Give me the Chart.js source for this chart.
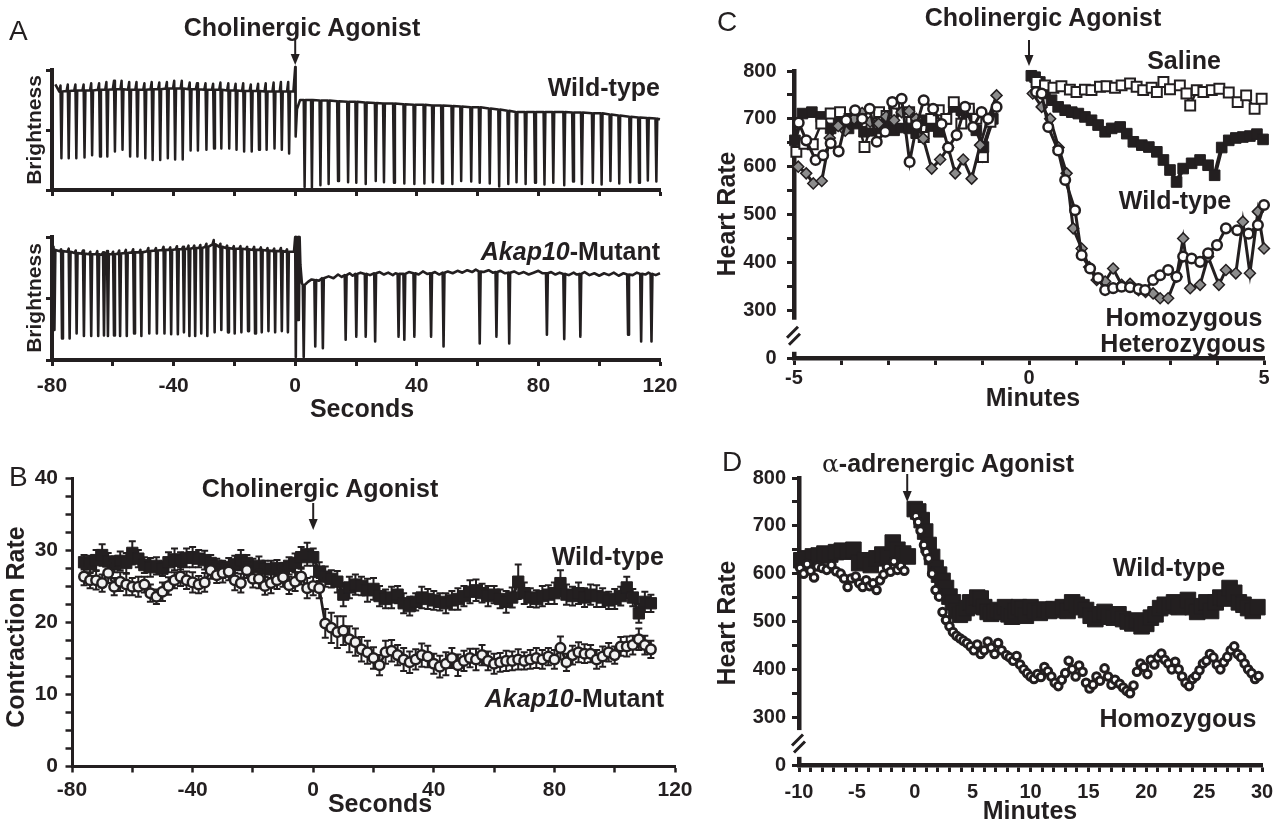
<!DOCTYPE html>
<html>
<head>
<meta charset="utf-8">
<title>Akap10 contraction and heart rate</title>
<script src="https://cdn.jsdelivr.net/npm/chart.js@4.4.1/dist/chart.umd.min.js"></script>
<style>
  html, body { margin: 0; padding: 0; background: #fff; }
  body { position: relative; width: 1282px; height: 830px; overflow: hidden; color: #231f20;
         font-family: 'Liberation Sans', Arial, Helvetica, sans-serif; }
  canvas { position: absolute; }
  .lbl { position: absolute; white-space: nowrap; font-weight: bold; font-size: 25px; line-height: 1;
         transform: translate(-50%, -50%); }
  .r { transform: translate(-100%, -50%); }
  .l { transform: translate(0, -50%); }
  .v { transform: translate(-50%, -50%) rotate(-90deg); }
  .panel { font-weight: normal; font-size: 28px; }
  .alpha { font-weight: normal; font-family: 'DejaVu Serif', serif; }
</style>
</head>
<body>
<canvas id="chartA1" width="700" height="164" style="left:0;top:36px"></canvas>
<canvas id="chartA2" width="700" height="200" style="left:0;top:225px"></canvas>
<canvas id="chartB" width="705" height="375" style="left:0;top:455px"></canvas>
<canvas id="chartC" width="582" height="370" style="left:700px;top:30px"></canvas>
<canvas id="chartD" width="582" height="390" style="left:700px;top:440px"></canvas>

<div class="lbl panel l" style="left:9px;top:31px">A</div>
<div class="lbl" style="left:302px;top:27px">Cholinergic Agonist</div>
<div class="lbl r" style="left:660px;top:87px">Wild-type</div>
<div class="lbl v" style="left:33px;top:130px;font-size:21px">Brightness</div>
<div class="lbl v" style="left:33px;top:298px;font-size:21px">Brightness</div>
<div class="lbl r" style="left:660px;top:251px"><i>Akap10</i>-Mutant</div>
<div class="lbl" style="left:362px;top:408px">Seconds</div>

<div class="lbl panel l" style="left:9px;top:477px">B</div>
<div class="lbl" style="left:320px;top:488px">Cholinergic Agonist</div>
<div class="lbl r" style="left:664px;top:556px">Wild-type</div>
<div class="lbl r" style="left:664px;top:698px"><i>Akap10</i>-Mutant</div>
<div class="lbl v" style="left:15px;top:627px">Contraction Rate</div>
<div class="lbl" style="left:380px;top:803px">Seconds</div>

<div class="lbl panel l" style="left:717px;top:22px">C</div>
<div class="lbl" style="left:1043px;top:17px">Cholinergic Agonist</div>
<div class="lbl" style="left:1184px;top:60px">Saline</div>
<div class="lbl" style="left:1175px;top:200px">Wild-type</div>
<div class="lbl" style="left:1184px;top:317px">Homozygous</div>
<div class="lbl" style="left:1183px;top:343px">Heterozygous</div>
<div class="lbl v" style="left:726px;top:214px">Heart Rate</div>
<div class="lbl" style="left:1033px;top:397px">Minutes</div>

<div class="lbl panel l" style="left:722px;top:462px">D</div>
<div class="lbl" style="left:948px;top:463px"><span class="alpha">α</span>-adrenergic Agonist</div>
<div class="lbl" style="left:1169px;top:567px">Wild-type</div>
<div class="lbl" style="left:1178px;top:718px">Homozygous</div>
<div class="lbl v" style="left:726px;top:623px">Heart Rate</div>
<div class="lbl" style="left:1030px;top:810px">Minutes</div>

<script>
// ---------- A: brightness traces, wild-type (seconds, arbitrary units 0-2) ----------
const aWtPreTime = [-76.9,-74.5,-72.0,-69.3,-66.8,-64.2,-61.8,-59.3,-56.8,-54.3,-51.9,-49.3,-46.9,-44.4,-41.9,-39.5,-37.0,-34.4,-32.0,-29.2,-26.7,-24.3,-21.7,-19.3,-16.8,-14.3,-11.9,-9.4,-6.8,-4.4,-2.0];
const aWtPreMin = [0.53,0.53,0.53,0.54,0.58,0.56,0.56,0.64,0.67,0.56,0.56,0.53,0.50,0.50,0.53,0.51,0.51,0.66,0.66,0.67,0.69,0.69,0.69,0.67,0.64,0.64,0.67,0.67,0.69,0.67,0.61];
const aWtPreBase = [1.64,1.65,1.66,1.66,1.66,1.67,1.67,1.68,1.68,1.67,1.67,1.67,1.68,1.68,1.69,1.69,1.69,1.68,1.68,1.67,1.67,1.67,1.66,1.66,1.65,1.65,1.65,1.64,1.64,1.64,1.64];
const aWtPrePeak = [1.74,1.76,1.76,1.76,1.78,1.78,1.80,1.82,1.82,1.80,1.80,1.78,1.80,1.79,1.80,1.82,1.82,1.79,1.78,1.78,1.77,1.79,1.78,1.77,1.78,1.76,1.77,1.78,1.79,1.80,1.80];
const aWtPostTime = [3.1,5.5,8.3,11.0,14.1,17.4,20.1,23.2,26.5,29.2,32.5,35.9,39.2,42.5,45.3,48.3,51.7,54.6,57.9,60.7,64.0,67.1,70.1,72.8,75.8,78.9,82.0,84.9,88.5,91.4,94.3,97.9,100.8,103.7,106.6,110.2,113.1,116.0,118.8];
const aWtPostMin = [0.05,0.04,0.08,0.10,0.15,0.13,0.12,0.10,0.15,0.13,0.12,0.11,0.10,0.11,0.13,0.11,0.10,0.15,0.14,0.12,0.11,0.06,0.10,0.13,0.10,0.12,0.09,0.12,0.08,0.14,0.10,0.12,0.09,0.15,0.11,0.13,0.12,0.16,0.14];
const aWtPostBase = [1.50,1.50,1.49,1.49,1.48,1.47,1.47,1.46,1.45,1.44,1.44,1.43,1.42,1.42,1.41,1.41,1.40,1.39,1.38,1.38,1.36,1.34,1.32,1.30,1.30,1.30,1.30,1.30,1.30,1.29,1.29,1.28,1.28,1.26,1.24,1.22,1.21,1.20,1.19];
const aWtEventTime = [-78.9, -0.6, 0, 0.15, 0.6, 1.6, 120];
const aWtEventVal = [1.76, 1.64, 2.05, 0.89, 1.35, 1.50, 1.18];

// ---------- A: brightness traces, Akap10 mutant ----------
const aMutPreTime = [-79.2,-76.7,-74.2,-71.9,-69.5,-67.1,-64.8,-62.9,-61.6,-59.6,-57.6,-55.4,-53.0,-50.6,-48.0,-45.5,-43.0,-40.8,-38.6,-36.6,-34.8,-32.9,-30.9,-28.9,-26.5,-24.3,-22.1,-19.9,-17.7,-15.5,-13.2,-11.0,-8.8,-6.6,-4.4,-2.4];
const aMutPreMin = [0.49,0.35,0.35,0.43,0.39,0.39,0.39,0.40,0.39,0.40,0.39,0.39,0.43,0.39,0.43,0.43,0.43,0.42,0.42,0.45,0.39,0.39,0.43,0.39,0.45,0.49,0.45,0.43,0.45,0.47,0.43,0.45,0.47,0.45,0.47,0.45];
const aMutPreBase = [1.79,1.77,1.76,1.74,1.73,1.72,1.72,1.71,1.72,1.72,1.73,1.74,1.75,1.75,1.77,1.78,1.79,1.79,1.80,1.80,1.81,1.82,1.82,1.84,1.88,1.84,1.82,1.81,1.81,1.80,1.79,1.79,1.78,1.77,1.77,1.76];
const aMutPrePeak = [1.84,1.80,1.81,1.78,1.78,1.76,1.77,1.75,1.77,1.76,1.78,1.79,1.80,1.79,1.82,1.82,1.84,1.83,1.85,1.84,1.86,1.86,1.87,1.89,1.95,1.89,1.86,1.85,1.85,1.84,1.84,1.83,1.82,1.81,1.82,1.80];
const aMutPostTime = [2.8,6.6,9.1,16.6,20.1,23.2,26.3,34.0,35.9,39.2,44.7,48.8,60.7,66.2,70.4,82.8,88.5,93.8,109.5,113.8,117.2];
const aMutPostMin = [0.05,0.22,0.19,0.33,0.38,0.38,0.30,0.38,0.33,0.38,0.38,0.22,0.27,0.38,0.27,0.41,0.34,0.38,0.41,0.30,0.30];
const aMutPostBase = [1.22,1.30,1.33,1.38,1.40,1.40,1.41,1.40,1.40,1.41,1.41,1.42,1.44,1.43,1.42,1.41,1.40,1.40,1.39,1.40,1.40];
const aMutEventTime = [-79.8, -0.4, 0, 0.2, 0.45, 0.7, 0.95, 1.2, 1.45, 1.7, 2.2];
const aMutEventVal = [1.80, 1.76, 2.0, 0.05, 2.0, 0.65, 2.0, 0.65, 2.0, 1.55, 1.25];
const aMutNoiseTime = [4.2,5.4,7.8,11.0,12.6,14.1,15.3,17.9,18.9,21.5,24.6,27.8,29.2,30.6,32.1,33.0,37.4,40.6,42.0,43.4,46.0,47.4,50.2,51.8,53.4,55.0,56.6,58.2,59.4,62.0,63.6,65.0,67.6,69.0,72.0,73.6,75.2,76.8,78.4,80.0,81.4,84.2,85.6,87.0,90.0,91.6,92.6,95.2,96.8,98.4,100.0,101.6,103.2,104.8,106.4,108.0,111.0,112.4,115.2,116.2,118.6,120.0];
const aMutNoiseVal = [1.27,1.31,1.29,1.36,1.33,1.39,1.35,1.41,1.37,1.42,1.38,1.43,1.39,1.42,1.38,1.41,1.43,1.39,1.44,1.40,1.43,1.39,1.44,1.41,1.45,1.42,1.46,1.43,1.47,1.43,1.46,1.42,1.45,1.41,1.44,1.40,1.43,1.39,1.42,1.45,1.41,1.43,1.39,1.42,1.38,1.42,1.39,1.43,1.38,1.41,1.37,1.41,1.38,1.42,1.37,1.41,1.38,1.42,1.39,1.42,1.38,1.41];

// ---------- B: contraction rate (seconds) ----------
const bTime = [-76,-74,-72,-70,-68,-66,-64,-62,-60,-58,-56,-54,-52,-50,-48,-46,-44,-42,-40,-38,-36,-34,-32,-30,-28,-26,-24,-22,-20,-18,-16,-14,-12,-10,-8,-6,-4,-2,0,2,4,6,8,10,12,14,16,18,20,22,24,26,28,30,32,34,36,38,40,42,44,46,48,50,52,54,56,58,60,62,64,66,68,70,72,74,76,78,80,82,84,86,88,90,92,94,96,98,100,102,104,106,108,110,112];
const bWild = [28.3,28.0,28.6,29.3,28.4,28.0,28.5,28.2,29.6,28.8,27.9,27.6,27.8,27.4,28.3,28.7,28.5,28.9,29.0,28.8,28.6,28.2,27.8,27.3,27.6,28.0,28.6,28.2,27.6,27.8,27.4,27.3,27.5,27.2,27.8,28.2,29.0,29.4,
  29.0,
  27.0,26.3,26.0,25.6,23.8,24.8,25.2,25.0,24.4,24.6,23.6,23.2,23.4,23.8,22.6,22.2,22.8,23.4,23.2,23.0,22.8,22.6,23.0,23.2,23.6,24.2,24.4,24.0,23.6,23.8,23.2,22.8,23.4,25.6,24.0,23.4,23.2,23.6,23.8,24.0,25.4,23.8,23.6,24.0,23.4,23.8,23.6,23.4,23.0,23.2,23.6,24.8,23.4,21.2,22.8,22.6];
const bWildErr = [1.0,1.2,1.4,1.5,1.2,1.1,1.3,1.4,1.6,1.2,1.1,1.3,1.2,1.0,1.4,1.5,1.2,1.3,1.4,1.2,1.3,1.1,1.0,1.2,1.3,1.2,1.4,1.1,1.2,1.3,1.1,1.2,1.1,1.0,1.2,1.3,1.4,1.6,
  1.2,
  1.3,1.4,1.2,1.5,1.6,1.5,1.4,1.3,1.6,1.5,1.4,1.3,1.5,1.2,1.4,1.3,1.2,1.5,1.4,1.3,1.2,1.4,1.3,1.5,1.4,1.6,1.5,1.3,1.4,1.2,1.3,1.5,1.4,2.4,1.5,1.3,1.2,1.4,1.3,1.5,1.8,1.4,1.3,1.5,1.3,1.4,1.5,1.3,1.2,1.4,1.3,1.5,1.2,1.3,1.4,1.2];
const bMutant = [26.3,25.8,25.8,25.4,26.8,24.9,25.6,25.2,24.9,24.9,25.2,24.0,23.5,24.2,25.0,25.8,26.3,25.8,25.5,25.2,25.5,27.2,26.5,26.8,27.0,25.8,25.4,27.2,26.0,26.0,25.0,25.4,25.8,26.2,25.1,25.6,26.3,24.7,
  25.0,
  24.7,19.8,19.2,18.6,18.8,17.6,17.2,16.2,15.8,15.0,14.0,15.8,16.0,15.4,14.8,14.4,14.8,15.4,15.2,14.2,13.8,14.2,15.0,14.0,14.6,15.0,14.8,15.4,14.6,14.2,14.4,14.6,14.6,14.8,14.6,14.8,15.0,14.8,15.2,14.8,16.4,14.4,15.4,15.8,15.6,15.6,14.8,15.2,15.8,15.4,16.6,16.6,16.8,17.6,16.8,16.2];
const bMutantErr = [1.2,1.1,1.3,1.2,1.4,1.2,1.3,1.5,1.2,1.4,1.1,1.2,1.0,1.3,1.2,1.1,1.3,1.2,1.4,1.2,1.3,1.2,1.1,1.3,1.2,1.4,1.3,1.1,1.2,1.3,1.2,1.4,1.2,1.3,1.2,1.3,1.1,1.4,
  1.3,
  1.4,2.0,2.1,2.2,2.0,1.8,1.9,1.7,1.6,1.5,1.4,1.6,1.5,1.4,1.6,1.5,1.4,1.6,1.5,1.4,1.5,1.6,1.4,1.5,1.4,1.3,1.5,1.4,1.3,1.4,1.3,1.4,1.3,1.4,1.2,1.3,1.4,1.3,1.2,1.3,1.6,1.2,1.3,1.4,1.3,1.2,1.3,1.4,1.3,1.2,1.3,1.4,1.3,1.5,1.3,1.2];

// ---------- C: heart rate, cholinergic agonist (minutes) ----------
const cSalPreTime = [-4.95,-4.78,-4.6,-4.42,-4.22,-4.02,-3.82,-3.66,-3.5,-3.35,-3.19,-3.03,-2.87,-2.71,-2.55,-2.4,-2.24,-2.08,-1.92,-1.76,-1.6,-1.44,-1.28,-1.12,-0.98,-0.82];
const cSalPre = [631,648,647,690,711,714,700,705,641,690,714,706,732,700,714,690,662,700,718,700,735,690,721,700,620,694];
const cSalPostTime = [0.16,0.34,0.52,0.69,0.87,1.01,1.19,1.33,1.51,1.65,1.83,1.97,2.15,2.29,2.43,2.61,2.72,2.86,3.0,3.21,3.35,3.43,3.57,3.71,3.89,4.05,4.25,4.44,4.62,4.8,4.95];
const cSalPost = [777,770,765,768,761,756,761,760,767,768,765,770,774,767,760,765,756,777,762,770,753,728,760,756,760,763,755,735,749,721,742];
const cWtPreTime = [-4.98,-4.82,-4.62,-4.42,-4.22,-4.05,-3.84,-3.66,-3.51,-3.35,-3.19,-3.03,-2.87,-2.71,-2.55,-2.4,-2.24,-2.08,-1.92,-1.76,-1.6,-1.44,-1.28,-1.12,-0.97,-0.77];
const cWtPre = [655,711,714,704,680,695,680,690,673,675,680,690,676,682,680,670,697,685,673,700,725,718,714,676,641,700];
const cWtPostTime = [0.05,0.13,0.23,0.34,0.48,0.62,0.77,0.91,1.05,1.19,1.33,1.47,1.62,1.76,1.94,2.08,2.22,2.4,2.55,2.72,2.86,3.0,3.14,3.28,3.46,3.64,3.81,3.95,4.1,4.25,4.4,4.55,4.7,4.85,4.98];
const cWtPost = [790,787,777,753,739,725,718,714,711,704,697,687,673,680,683,669,652,645,641,631,614,593,568,596,607,614,603,582,640,655,660,662,664,668,657];
const cHomPreTime = [-4.9,-4.74,-4.54,-4.38,-4.22,-4.05,-3.89,-3.7,-3.55,-3.39,-3.24,-3.06,-2.91,-2.71,-2.54,-2.39,-2.24,-2.04,-1.86,-1.72,-1.54,-1.36,-1.19,-1.01,-0.87,-0.69];
const cHomPre = [692,655,614,624,649,632,697,718,700,721,652,673,735,742,610,687,739,721,689,640,666,725,683,714,700,725];
const cHomPostTime = [0.15,0.27,0.41,0.62,0.77,0.98,1.12,1.3,1.47,1.62,1.79,1.97,2.15,2.33,2.47,2.64,2.79,2.96,3.14,3.28,3.46,3.64,3.81,4.0,4.19,4.43,4.67,4.87,5.0];
const cHomPost = [756,753,683,634,572,509,415,387,367,342,346,349,348,344,342,363,373,384,370,412,408,401,419,436,471,467,460,478,520];
const cHetPreTime = [-4.91,-4.74,-4.59,-4.41,-4.24,-4.06,-3.91,-3.72,-3.55,-3.38,-3.2,-3.04,-2.87,-2.71,-2.55,-2.4,-2.25,-2.07,-1.89,-1.72,-1.57,-1.4,-1.22,-1.04,-0.87,-0.69];
const cHetPre = [600,586,565,570,660,685,675,700,712,694,690,705,697,714,716,700,659,596,615,640,586,615,575,645,700,749];
const cHetPostTime = [0.08,0.27,0.45,0.63,0.8,0.94,1.12,1.28,1.44,1.62,1.79,1.97,2.15,2.33,2.48,2.64,2.79,2.96,3.14,3.28,3.43,3.64,3.81,4.04,4.19,4.4,4.55,4.7,4.87,5.0];
const cHetPost = [753,725,700,640,586,471,429,390,363,360,387,353,355,342,338,335,325,325,370,450,346,353,412,353,384,377,485,377,506,429];

// ---------- D: heart rate, alpha-adrenergic agonist (minutes) ----------
const dWtPreTime = [-9.8,-9.3,-8.8,-8.3,-7.8,-7.3,-6.8,-6.3,-5.8,-5.3,-4.8,-4.3,-3.8,-3.3,-2.8,-2.3,-1.9,-1.5,-1.0,-0.6];
const dWtPre = [628,632,636,638,642,640,645,648,646,650,622,628,618,632,640,636,665,650,642,636];
const dWtPostTime = [0.0,0.3,0.6,0.9,1.2,1.5,1.8,2.1,2.4,2.7,3.0,3.3,3.6,3.9,4.2,4.5,4.8,5.1,5.4,5.7,6.0,6.3,6.6,6.9,7.2,7.5,7.8,8.1,8.4,8.7,9.0,9.3,9.6,10.0,10.4,10.8,11.2,11.6,12.0,12.4,12.8,13.2,13.6,14.0,14.4,14.8,15.2,15.6,16.0,16.4,16.8,17.2,17.6,18.0,18.4,18.8,19.2,19.6,20.0,20.4,20.8,21.2,21.6,22.0,22.4,22.8,23.2,23.6,24.0,24.4,24.8,25.2,25.6,26.0,26.4,26.8,27.2,27.6,28.0,28.4,28.8,29.2,29.6];
const dWtPost = [735,730,712,688,660,635,612,598,585,570,552,540,522,514,518,528,540,532,550,548,530,520,516,520,524,520,530,515,510,522,530,526,512,530,522,518,525,522,526,524,530,522,540,535,530,524,512,505,515,520,510,508,515,505,500,496,502,490,495,508,515,528,535,532,540,530,535,545,530,520,532,540,522,540,550,548,570,560,540,535,528,522,530];
const dHomPreTime = [-9.9,-9.6,-9.3,-9.0,-8.7,-8.4,-8.0,-7.6,-7.2,-6.8,-6.4,-6.1,-5.8,-5.5,-5.1,-4.8,-4.5,-4.2,-3.9,-3.6,-3.3,-3.0,-2.7,-2.4,-2.1,-1.8,-1.5,-1.2,-0.9];
const dHomPre = [612,600,620,606,592,615,612,608,618,605,600,590,572,590,594,580,572,586,574,580,566,586,598,614,604,626,608,616,606];
const dHomPostTime = [0.1,0.3,0.5,0.8,1.0,1.2,1.5,1.8,2.1,2.4,2.7,3.0,3.3,3.6,3.9,4.2,4.5,4.8,5.1,5.4,5.7,6.0,6.3,6.6,6.9,7.2,7.5,7.9,8.2,8.5,8.8,9.1,9.4,9.7,10.0,10.3,10.6,10.9,11.2,11.5,11.8,12.1,12.4,12.7,13.0,13.3,13.6,13.9,14.2,14.5,14.8,15.1,15.4,15.7,16.0,16.4,16.7,17.0,17.3,17.7,18.0,18.3,18.6,18.9,19.2,19.5,19.8,20.1,20.4,20.7,21.0,21.3,21.6,21.9,22.2,22.5,22.8,23.1,23.4,23.7,24.0,24.3,24.6,24.9,25.2,25.5,25.8,26.1,26.4,26.7,27.0,27.3,27.6,27.9,28.2,28.5,28.8,29.1,29.4,29.7];
const dHomPost = [720,708,690,660,645,632,600,566,552,520,503,490,478,470,465,460,455,448,440,452,432,440,458,445,432,455,440,430,425,418,428,410,400,392,385,380,390,384,405,396,385,372,365,378,392,418,400,385,408,395,372,360,368,385,376,402,385,368,378,370,362,355,350,366,395,412,405,390,420,410,425,433,420,412,400,416,400,385,372,365,380,386,398,412,418,432,425,410,400,415,426,440,448,432,425,412,400,392,380,386];

const INK = '#231f20';
const FONT = "'Liberation Sans', Arial, Helvetica, sans-serif";

function pairs(xs, ys) {
    return xs.map((x, i) => ({ x, y: ys[i] }));
}

// each beat: baseline -> (optional upstroke) -> spike minimum -> baseline
function spikes(times, mins, bases, peaks) {
    const pts = [];
    times.forEach((t, i) => {
        if (peaks) pts.push({ x: t - 0.7, y: bases[i] }, { x: t - 0.3, y: peaks[i] });
        else pts.push({ x: t - 0.3, y: bases[i] });
        pts.push({ x: t, y: mins[i] }, { x: t + 0.3, y: bases[i] });
    });
    return pts;
}

const byX = (a, b) => a.x - b.x;

function phases(tPre, vPre, tPost, vPost, gapAt) {
    return pairs(tPre, vPre).concat([{ x: gapAt, y: null }], pairs(tPost, vPost));
}

function axis(o) {
    return {
        type: 'linear',
        min: o.min,
        max: o.max,
        border: { display: true, width: o.bw, color: INK },
        grid: {
            drawOnChartArea: false,
            drawTicks: true,
            tickLength: o.tl,
            tickWidth: o.tw || 3,
            tickColor: o.tickColor || INK
        },
        ticks: {
            stepSize: o.step,
            autoSkip: false,
            maxRotation: 0,
            minRotation: 0,
            display: !!o.cb,
            padding: o.pad || 0,
            color: INK,
            font: { family: FONT, weight: 'bold', size: o.fs || 20 },
            callback: o.cb || (() => '')
        },
        afterFit: s => {
            if (s.isHorizontal()) s.height = o.size;
            else s.width = o.size;
        }
    };
}

const every = n => v => (Math.abs(v % n) < 1e-9 ? v : '');
const heartTicks = v => (v === 200 ? '0' : (v >= 300 && v % 100 === 0 ? v : ''));
const hideBreakTick = ctx => (ctx.tick && ctx.tick.value === 250 ? 'rgba(0,0,0,0)' : INK);

function arrowAt(value, yTop, yTip) {
    return {
        id: 'arrow',
        afterDraw(chart) {
            const ctx = chart.ctx;
            const off = chart.canvas.offsetTop;
            const x = chart.scales.x.getPixelForValue(value);
            const y1 = yTop - off, y2 = yTip - off;
            ctx.save();
            ctx.strokeStyle = INK;
            ctx.fillStyle = INK;
            ctx.lineWidth = 2;
            ctx.beginPath();
            ctx.moveTo(x, y1);
            ctx.lineTo(x, y2 - 8);
            ctx.stroke();
            ctx.beginPath();
            ctx.moveTo(x - 4.5, y2 - 11);
            ctx.lineTo(x + 4.5, y2 - 11);
            ctx.lineTo(x, y2);
            ctx.closePath();
            ctx.fill();
            ctx.restore();
        }
    };
}

const errorBars = {
    id: 'errorBars',
    beforeDatasetDraw(chart, args) {
        const ds = chart.data.datasets[args.index];
        if (!ds.errors) return;
        const { ctx, scales: { x, y } } = chart;
        ctx.save();
        ctx.strokeStyle = INK;
        ctx.lineWidth = 2;
        ds.data.forEach((p, i) => {
            const px = x.getPixelForValue(p.x);
            const top = y.getPixelForValue(p.y + ds.errors[i]);
            const bot = y.getPixelForValue(p.y - ds.errors[i]);
            ctx.beginPath();
            ctx.moveTo(px, top); ctx.lineTo(px, bot);
            ctx.moveTo(px - 3.5, top); ctx.lineTo(px + 3.5, top);
            ctx.moveTo(px - 3.5, bot); ctx.lineTo(px + 3.5, bot);
            ctx.stroke();
        });
        ctx.restore();
    }
};

// broken y axis between the 0 tick and 300
function axisBreak(from, to) {
    return {
        id: 'axisBreak',
        afterDraw(chart) {
            const { ctx, chartArea, scales: { y } } = chart;
            const x0 = chartArea.left;
            const yA = y.getPixelForValue(from), yB = y.getPixelForValue(to);
            const mid = (yA + yB) / 2;
            ctx.save();
            ctx.fillStyle = '#fff';
            ctx.fillRect(x0 - 5, yA, 10, yB - yA);
            ctx.strokeStyle = INK;
            ctx.lineWidth = 3;
            ctx.beginPath();
            ctx.moveTo(x0 - 7, mid + 2); ctx.lineTo(x0 + 4, mid - 9);
            ctx.moveTo(x0 - 5, mid + 9); ctx.lineTo(x0 + 6, mid - 2);
            ctx.stroke();
            ctx.restore();
        }
    };
}

function makeChart(id, datasets, scales, padding, plugins) {
    return new Chart(document.getElementById(id), {
        type: 'line',
        data: { datasets },
        options: {
            responsive: false,
            animation: false,
            devicePixelRatio: 1,
            events: [],
            layout: { padding },
            plugins: { legend: { display: false }, tooltip: { enabled: false } },
            scales
        },
        plugins
    });
}

const traceStyle = { borderColor: INK, borderWidth: 2.5, pointRadius: 0, tension: 0, clip: false, borderJoinStyle: 'round' };

// ---- A (top): wild-type trace ----
const aWtTrace = spikes(aWtPreTime, aWtPreMin, aWtPreBase, aWtPrePeak)
    .concat(spikes(aWtPostTime, aWtPostMin, aWtPostBase), pairs(aWtEventTime, aWtEventVal))
    .sort(byX);

makeChart('chartA1',
    [{ data: aWtTrace, ...traceStyle }],
    {
        x: axis({ min: -80, max: 120, step: 20, size: 10, tl: 6, bw: 4 }),
        y: axis({ min: 0, max: 2, step: 1, size: 52, tl: 6, bw: 4 })
    },
    { top: 34, right: 40, left: 0, bottom: 0 },
    [arrowAt(0, 40, 65)]);

// ---- A (bottom): Akap10 mutant trace ----
const aMutTrace = spikes(aMutPreTime, aMutPreMin, aMutPreBase, aMutPrePeak)
    .concat(spikes(aMutPostTime, aMutPostMin, aMutPostBase),
            pairs(aMutEventTime, aMutEventVal),
            pairs(aMutNoiseTime, aMutNoiseVal))
    .sort(byX);

makeChart('chartA2',
    [{ data: aMutTrace, ...traceStyle, borderWidth: 2.6 }],
    {
        x: axis({ min: -80, max: 120, step: 20, size: 65, tl: 6, bw: 4, pad: 8, fs: 21, cb: every(40) }),
        y: axis({ min: 0, max: 2, step: 1, size: 52, tl: 6, bw: 4 })
    },
    { top: 12, right: 40, left: 0, bottom: 0 },
    []);

// ---- B: contraction rate with SEM bars ----
makeChart('chartB',
    [
        {
            data: pairs(bTime, bMutant), errors: bMutantErr,
            borderColor: INK, borderWidth: 2.7, tension: 0, clip: false,
            pointStyle: 'circle', pointRadius: 4.8, pointBackgroundColor: '#f2f2f2',
            pointBorderColor: INK, pointBorderWidth: 2.5
        },
        {
            data: pairs(bTime, bWild), errors: bWildErr,
            borderColor: INK, borderWidth: 3.3, tension: 0, clip: false,
            pointStyle: 'rect', pointRadius: 8, pointBackgroundColor: INK,
            pointBorderColor: INK, pointBorderWidth: 1
        }
    ],
    {
        x: axis({ min: -80, max: 120, step: 20, size: 64, tl: 6.5, tw: 2.5, bw: 3, pad: 5.5, fs: 21, cb: every(40) }),
        y: axis({ min: 0, max: 40, step: 2.5, size: 72, tl: 6.5, tw: 2.5, bw: 3, pad: 7.5, fs: 21, cb: every(10) })
    },
    { top: 23, right: 30, left: 0, bottom: 0 },
    [errorBars, arrowAt(0, 503, 530)]);

// ---- C: heart rate after cholinergic agonist ----
makeChart('chartC',
    [
        {
            data: phases(cHomPreTime, cHomPre, cHomPostTime, cHomPost, -0.3),
            borderColor: INK, borderWidth: 3, tension: 0, clip: false,
            pointStyle: 'circle', pointRadius: 4.8, pointBackgroundColor: '#fff',
            pointBorderColor: INK, pointBorderWidth: 2.5
        },
        {
            data: phases(cHetPreTime, cHetPre, cHetPostTime, cHetPost, -0.3),
            borderColor: INK, borderWidth: 3, tension: 0, clip: false,
            pointStyle: 'rectRot', pointRadius: 5.5, pointBackgroundColor: '#8c8c8c',
            pointBorderColor: INK, pointBorderWidth: 1.5
        },
        {
            data: phases(cSalPreTime, cSalPre, cSalPostTime, cSalPost, -0.3),
            borderColor: INK, borderWidth: 2.5, tension: 0, clip: false,
            pointStyle: 'rect', pointRadius: 7, pointBackgroundColor: '#fff',
            pointBorderColor: INK, pointBorderWidth: 2
        },
        {
            data: phases(cWtPreTime, cWtPre, cWtPostTime, cWtPost, -0.3),
            borderColor: INK, borderWidth: 4, tension: 0, clip: false,
            pointStyle: 'rect', pointRadius: 7.5, pointBackgroundColor: INK,
            pointBorderColor: INK, pointBorderWidth: 1
        }
    ],
    {
        x: axis({ min: -5, max: 5, step: 1, size: 42, tl: 7, bw: 4.5, pad: 1.5, cb: every(5) }),
        y: axis({ min: 200, max: 800, step: 50, size: 94, tl: 7, bw: 4.5, pad: 10.5, cb: heartTicks, tickColor: hideBreakTick })
    },
    { top: 41, right: 18, left: 0, bottom: 0 },
    [axisBreak(280, 213), arrowAt(0, 40, 66)]);

// ---- D: heart rate after alpha-adrenergic agonist ----
makeChart('chartD',
    [
        {
            data: phases(dHomPreTime, dHomPre, dHomPostTime, dHomPost, -0.4),
            showLine: false, clip: false,
            pointStyle: 'circle', pointRadius: 3.8, pointBackgroundColor: '#fff',
            pointBorderColor: INK, pointBorderWidth: 3
        },
        {
            data: phases(dWtPreTime, dWtPre, dWtPostTime, dWtPost, -0.3),
            showLine: false, clip: false,
            pointStyle: 'rect', pointRadius: 11, pointBackgroundColor: INK,
            pointBorderColor: INK, pointBorderWidth: 1
        }
    ],
    {
        x: axis({ min: -10, max: 30, step: 1, size: 65, tl: 7, bw: 4.5, pad: 8, cb: every(5) }),
        y: axis({ min: 200, max: 800, step: 50, size: 99, tl: 7, bw: 4.5, pad: 6, cb: heartTicks, tickColor: hideBreakTick })
    },
    { top: 38, right: 20, left: 0, bottom: 0 },
    [axisBreak(273, 217), arrowAt(-0.65, 474, 502)]);
</script>
</body>
</html>
